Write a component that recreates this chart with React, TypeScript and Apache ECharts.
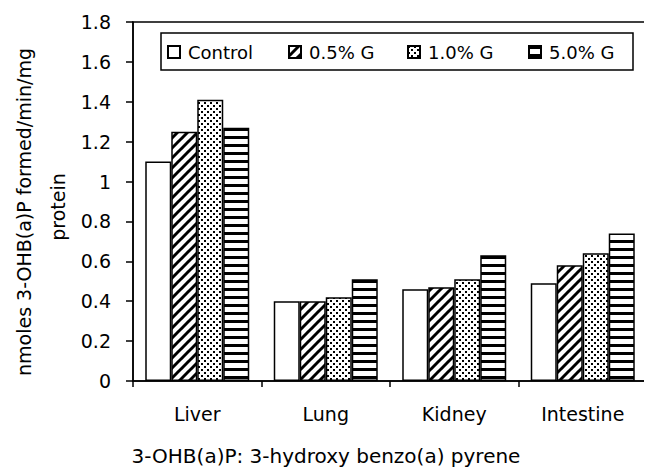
import React, { useEffect, useRef } from "react";
import * as echarts from "echarts";

const categories = ["Liver", "Lung", "Kidney", "Intestine"];
const seriesNames = ["Control", "0.5% G", "1.0% G", "5.0% G"];
const control = [1.1, 0.4, 0.46, 0.49];
const g05 = [1.25, 0.4, 0.47, 0.58];
const g10 = [1.41, 0.42, 0.51, 0.64];
const g50 = [1.27, 0.51, 0.63, 0.74];
const yTicks = { min: 0, max: 1.8, interval: 0.2 };
const yNameLines = ["nmoles 3-OHB(a)P formed/min/mg", "protein"];
const note = "3-OHB(a)P: 3-hydroxy benzo(a) pyrene";

const FONT = "DejaVu Sans";
const legendLefts = [167, 288, 407, 528];

function makePattern(kind: string) {
  const c = document.createElement("canvas");
  let w = 8, h = 8;
  if (kind === "diag") { w = 10; h = 10; }
  if (kind === "dots") { w = 6; h = 6; }
  if (kind === "hstripe") { w = 4; h = 8; }
  c.width = w; c.height = h;
  const ctx = c.getContext("2d")!;
  ctx.fillStyle = "#fff";
  ctx.fillRect(0, 0, w, h);
  ctx.fillStyle = "#000";
  ctx.strokeStyle = "#000";
  if (kind === "diag") {
    ctx.lineWidth = 3;
    for (const o of [-w, 0, w]) {
      ctx.beginPath();
      ctx.moveTo(o - 1, h + 1);
      ctx.lineTo(o + w + 1, -1);
      ctx.stroke();
    }
  } else if (kind === "dots") {
    ctx.fillRect(0, 0, 2, 2);
    ctx.fillRect(3, 3, 2, 2);
  } else if (kind === "hstripe") {
    ctx.fillRect(0, 0, w, 3);
  }
  return { image: c.toDataURL(), repeat: "repeat", imageWidth: w, imageHeight: h };
}

export default function App() {
  const ref = useRef<HTMLDivElement>(null);
  useEffect(() => {
    if (!ref.current) return;
    const chart = echarts.init(ref.current, null, { renderer: "svg" });
    const fills: any[] = ["#ffffff", makePattern("diag"), makePattern("dots"), makePattern("hstripe")];
    const datas = [control, g05, g10, g50];
    chart.setOption({
      animation: false,
      backgroundColor: "#fff",
      textStyle: { fontFamily: FONT, color: "#000" },
      grid: {
        left: 133, right: 5, top: 22, bottom: 91,
        show: true, borderColor: "#000", borderWidth: 1.5, backgroundColor: "transparent",
      },
      legend: seriesNames.map((name, i) => ({
        left: legendLefts[i], top: 42,
        data: [name],
        itemWidth: 12, itemHeight: 12,
        padding: 0,
        icon: "rect",
        textStyle: { fontFamily: FONT, fontSize: 18, color: "#000", lineHeight: 20, padding: [0, 0, 0, 3] },
      })),
      xAxis: {
        type: "category",
        data: categories,
        axisLine: { lineStyle: { color: "#000", width: 1.5 } },
        axisTick: { show: true, length: 6, alignWithLabel: false, lineStyle: { color: "#000", width: 1.5 } },
        axisLabel: { fontFamily: FONT, fontSize: 19, color: "#000", margin: 23 },
      },
      yAxis: {
        type: "value",
        min: yTicks.min, max: yTicks.max, interval: yTicks.interval,
        splitLine: { show: false },
        axisLine: { show: true, lineStyle: { color: "#000", width: 1.5 } },
        axisTick: { show: true, length: 7, lineStyle: { color: "#000", width: 1.5 } },
        axisLabel: { fontFamily: FONT, fontSize: 19, color: "#000", margin: 22 },
      },
      graphic: [
        {
          type: "rect",
          shape: { x: 161, y: 33, width: 472, height: 37 },
          style: { fill: "none", stroke: "#000", lineWidth: 1.5 },
        },
        {
          type: "text", x: 24, y: 212, rotation: Math.PI / 2,
          style: { text: yNameLines[0], fontFamily: FONT, fontSize: 19, fill: "#000", align: "center", verticalAlign: "middle" },
        },
        {
          type: "text", x: 58, y: 207, rotation: Math.PI / 2,
          style: { text: yNameLines[1], fontFamily: FONT, fontSize: 19, fill: "#000", align: "center", verticalAlign: "middle" },
        },
        {
          type: "text", x: 326, y: 456,
          style: { text: note, fontFamily: FONT, fontSize: 20, fill: "#000", align: "center", verticalAlign: "middle" },
        },
      ],
      series: seriesNames.map((name, i) => ({
        name,
        type: "bar",
        data: datas[i],
        barWidth: 26,
        barGap: "0%",
        itemStyle: { color: fills[i], borderColor: "#000", borderWidth: 1.5 },
      })),
    });
    return () => chart.dispose();
  }, []);
  return <div ref={ref} style={{ width: 652, height: 472, margin: "-8px 0 0 -8px" }} />;
}
